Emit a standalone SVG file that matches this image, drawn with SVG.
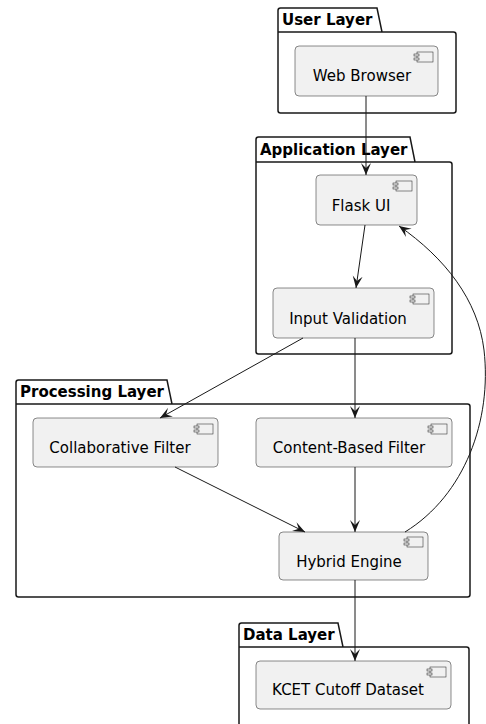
<svg xmlns="http://www.w3.org/2000/svg" width="486" height="724" viewBox="0 0 486 724">
<style>
.pkg{fill:none;stroke:#181818;stroke-width:1.5}
.pt{font-family:"DejaVu Sans",sans-serif;font-size:15px;font-weight:bold;fill:#000}
.node{fill:#F1F1F1;stroke:#181818;stroke-width:0.5}
.nt{font-family:"DejaVu Sans",sans-serif;font-size:15px;fill:#000;text-anchor:middle}
.ic{fill:#F1F1F1;stroke:#181818;stroke-width:0.5}
.edge{fill:none;stroke:#181818;stroke-width:1;marker-end:url(#ah)}
</style>
<defs>
<marker id="ah" viewBox="0 0 12 12" refX="12" refY="6" markerWidth="12" markerHeight="12" markerUnits="userSpaceOnUse" orient="auto">
<path d="M0,1 L12,6 L0,11 L5,6 Z" fill="#181818"/>
</marker>
<g id="icon">
<rect class="ic" x="0" y="0" width="16" height="10"/>
<rect class="ic" x="-3" y="2" width="5" height="2"/>
<rect class="ic" x="-3" y="6" width="5" height="2"/>
</g>
</defs>
<rect width="486" height="724" fill="#FFFFFF"/>

<g id="pkg-user">
<path class="pkg" d="M278,32 L278,10.5 Q278,8 280.5,8 L377,8 L382,32 L453.5,32 Q456,32 456,34.5 L456,110.5 Q456,113 453.5,113 L280.5,113 Q278,113 278,110.5 Z M278,32 L382,32"/>
<text class="pt" x="282" y="25">User Layer</text>
</g>
<g id="pkg-app">
<path class="pkg" d="M256,162 L256,139.5 Q256,137 258.5,137 L410,137 L415,162 L449.5,162 Q452,162 452,164.5 L452,351.5 Q452,354 449.5,354 L258.5,354 Q256,354 256,351.5 Z M256,162 L415,162"/>
<text class="pt" x="260" y="155">Application Layer</text>
</g>
<g id="pkg-proc">
<path class="pkg" d="M16,404 L16,382.5 Q16,380 18.5,380 L167,380 L172,404 L467.5,404 Q470,404 470,406.5 L470,594.5 Q470,597 467.5,597 L18.5,597 Q16,597 16,594.5 Z M16,404 L172,404"/>
<text class="pt" x="20" y="397">Processing Layer</text>
</g>
<g id="pkg-data">
<path class="pkg" d="M239,647 L239,625.5 Q239,623 241.5,623 L338,623 L343,647 L466.5,647 Q469,647 469,649.5 L469,740 M239,647 L239,740 M239,647 L343,647"/>
<text class="pt" x="243" y="640">Data Layer</text>
</g>

<g id="web-browser">
<rect class="node" x="295" y="46" width="143" height="50" rx="4"/>
<use href="#icon" x="417" y="52"/>
<text class="nt" x="362" y="81">Web Browser</text>
</g>
<g id="flask-ui">
<rect class="node" x="316" y="175" width="101" height="50" rx="4"/>
<use href="#icon" x="396" y="181"/>
<text class="nt" x="361" y="211">Flask UI</text>
</g>
<g id="input-validation">
<rect class="node" x="273" y="288" width="161" height="50" rx="4"/>
<use href="#icon" x="413" y="294"/>
<text class="nt" x="348" y="324">Input Validation</text>
</g>
<g id="collaborative-filter">
<rect class="node" x="33" y="418" width="185" height="49" rx="4"/>
<use href="#icon" x="197" y="424"/>
<text class="nt" x="120" y="453">Collaborative Filter</text>
</g>
<g id="content-based-filter">
<rect class="node" x="256" y="418" width="196" height="49" rx="4"/>
<use href="#icon" x="431" y="424"/>
<text class="nt" x="349" y="453">Content-Based Filter</text>
</g>
<g id="hybrid-engine">
<rect class="node" x="279" y="532" width="149" height="48" rx="4"/>
<use href="#icon" x="407" y="537"/>
<text class="nt" x="349" y="567">Hybrid Engine</text>
</g>
<g id="kcet-dataset">
<rect class="node" x="256" y="661" width="195" height="48" rx="4"/>
<use href="#icon" x="430" y="667"/>
<text class="nt" x="348" y="695">KCET Cutoff Dataset</text>
</g>

<g id="connectors">
<path class="edge" d="M366,96 L366,175"/>
<path class="edge" d="M365,225 L356,288"/>
<path class="edge" d="M303,338 L160,418"/>
<path class="edge" d="M355,338 L355,418"/>
<path class="edge" d="M175,467 L305,532"/>
<path class="edge" d="M355,467 L355,532"/>
<path class="edge" d="M405,532 C465,495 492,420 484,350 C478,300 445,258 399,226"/>
<path class="edge" d="M355,580 L355,661"/>
</g>
</svg>
